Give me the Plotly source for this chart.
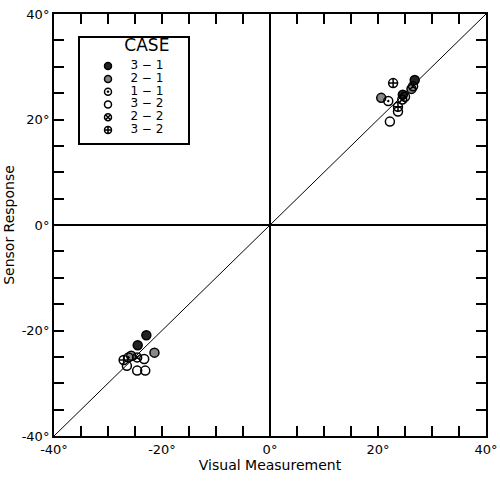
import plotly.graph_objects as go

# ---- data ----
axis_min, axis_max = -40, 40
tick_vals = [-40, -20, 0, 20, 40]
tick_text = ["-40°", "-20°", "0°", "20°", "40°"]

legend_title = "CASE"
case_names = ["3 − 1", "2 − 1", "1 − 1", "3 − 2", "2 − 2", "3 − 2"]

case_31_x = [26.8, 24.6, -22.9, -24.5]
case_31_y = [27.5, 24.7, -20.9, -22.8]
case_21_x = [20.6, 26.2, -25.7, -21.4]
case_21_y = [24.1, 25.8, -24.8, -24.2]
case_11_x = [21.9, 25.0, -26.2]
case_11_y = [23.5, 24.3, -25.1]
case_32a_x = [22.2, 23.7, -23.3, -26.5, -24.6, -23.1]
case_32a_y = [19.6, 21.5, -25.4, -26.7, -27.6, -27.6]
case_22_x = [26.5, 24.5, -24.6]
case_22_y = [26.3, 23.8, -25.1]
case_32b_x = [22.8, 23.7, -27.1]
case_32b_y = [26.9, 22.4, -25.6]

series_x = [case_31_x, case_21_x, case_11_x, case_32a_x, case_22_x, case_32b_x]
series_y = [case_31_y, case_21_y, case_11_y, case_32a_y, case_22_y, case_32b_y]

# ---- styles ----
symbols = ["circle", "circle", "circle-open-dot", "circle-open", "circle-x-open", "circle-cross-open"]
fills = ["#222222", "#888888", "black", "black", "black", "black"]
FONT = "DejaVu Sans"

fig = go.Figure()

# diagonal reference line y = x
fig.add_trace(go.Scatter(
    x=[axis_min, axis_max], y=[axis_min, axis_max], mode="lines",
    line=dict(color="black", width=1), showlegend=False, hoverinfo="skip"))

for name, xs, ys, sym, fill in zip(case_names, series_x, series_y, symbols, fills):
    fig.add_trace(go.Scatter(
        x=xs, y=ys, mode="markers", name=name, showlegend=False,
        marker=dict(symbol=sym, size=9, color=fill, line=dict(color="black", width=1.5))))

# ---- hand-built legend box on its own small axes ----
rows = list(range(len(case_names)))
for r, sym, fill in zip(rows, symbols, fills):
    fig.add_trace(go.Scatter(
        x=[0.26], y=[r], mode="markers", xaxis="x2", yaxis="y2", showlegend=False,
        hoverinfo="skip",
        marker=dict(symbol=sym, size=7, color=fill, line=dict(color="black", width=1.5))))
fig.add_trace(go.Scatter(
    x=[0.62] * len(rows), y=rows, mode="text", text=case_names, xaxis="x2", yaxis="y2",
    textfont=dict(family=FONT, size=12, color="black"), showlegend=False, hoverinfo="skip"))
fig.add_trace(go.Scatter(
    x=[0.62], y=[-1.5], mode="text", text=[legend_title], xaxis="x2", yaxis="y2",
    textfont=dict(family=FONT, size=17, color="black"), showlegend=False, hoverinfo="skip"))

axis_common = dict(
    range=[axis_min, axis_max], tickvals=tick_vals, ticktext=tick_text,
    ticks="inside", ticklen=10, tickwidth=1.5, tickcolor="black",
    minor=dict(dtick=5, ticks="inside", ticklen=10, tickwidth=1.5, tickcolor="black"),
    showline=True, linecolor="black", linewidth=2, mirror="ticks",
    showgrid=False, zeroline=True, zerolinecolor="black", zerolinewidth=1.5,
    tickfont=dict(family=FONT, size=13, color="black"), automargin=False,
)

box_axis = dict(showline=True, linecolor="black", linewidth=1.5, mirror=True,
                showgrid=False, zeroline=False, showticklabels=False, ticks="",
                fixedrange=True)

fig.update_layout(
    width=500, height=483,
    margin=dict(l=54, r=14, t=14, b=47),
    paper_bgcolor="white", plot_bgcolor="white",
    xaxis=dict(axis_common, title=dict(text="Visual Measurement", standoff=2,
               font=dict(family=FONT, size=14, color="black"))),
    yaxis=dict(axis_common, title=dict(text="Sensor Response", standoff=4,
               font=dict(family=FONT, size=14, color="black"))),
    xaxis2=dict(box_axis, domain=[0.060, 0.310], range=[0, 1], anchor="y2"),
    yaxis2=dict(box_axis, domain=[0.694, 0.943], range=[6.02, -2.19], anchor="x2"),
    showlegend=False,
)

fig.write_html("out.html")
